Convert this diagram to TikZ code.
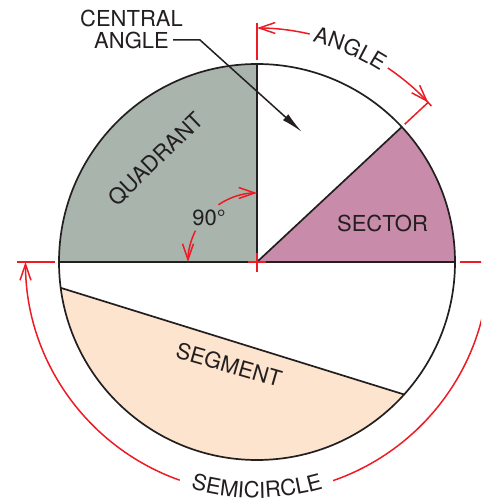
\documentclass[tikz,border=0pt]{standalone}
\usepackage{fontspec}
\setmainfont{TeX Gyre Heros}
\usepackage{tikz}
\usetikzlibrary{arrows.meta,decorations.text}
\definecolor{quadGray}{RGB}{169,181,172}
\definecolor{sectorPink}{RGB}{201,139,170}
\definecolor{segPeach}{RGB}{252,228,206}
\definecolor{dimRed}{RGB}{237,28,36}
\definecolor{inkBlack}{RGB}{35,31,32}

\begin{document}
\begin{tikzpicture}[
  x=1pt, y=1pt,
  figtext/.style={font=\fontsize{22}{22}\selectfont, text=inkBlack, inner sep=0pt, align=center},
  outline/.style={draw=inkBlack, line width=1.7pt},
  dimline/.style={draw=dimRed, line width=1.5pt},
  dimarrow/.style={dimline, -{Straight Barb[length=16pt, width=11pt]}},
  leader/.style={draw=inkBlack, line width=1.5pt, -{Latex[length=22pt, width=8pt]}},
  arctext/.style={decorate, decoration={text along path, text align=center, text color=inkBlack}}
]
  \useasboundingbox (-257,-240) rectangle (224,262);
  \clip (-257,-240) rectangle (224,262);
  \coordinate (O) at (0,0);
  \coordinate (left) at (180:198);
  \coordinate (right) at (0:198);
  \coordinate (top) at (90:198);
  \coordinate (edge) at (43:198);
  \coordinate (chordA) at (187.5:198);
  \coordinate (chordB) at (318:198);

  % filled regions
  \fill[quadGray] (O) -- (top) arc[start angle=90, end angle=180, radius=198] -- cycle;
  \fill[sectorPink] (O) -- (right) arc[start angle=0, end angle=43, radius=198] -- cycle;
  \fill[segPeach] (chordA) arc[start angle=187.5, end angle=318, radius=198] -- cycle;

  % circle and lines
  \draw[outline] (O) circle[radius=198];
  \draw[outline] (left) -- (right);
  \draw[outline] (O) -- (top);
  \draw[outline] (O) -- (edge);
  \draw[outline] (chordA) -- (chordB);

  % labels
  \node[figtext, rotate=44] (quadrant) at (-101,103) {QUADRANT};
  \node[figtext] (sector) at (125.5,39) {SECTOR};
  \node[figtext, rotate=-16] (segment) at (-28,-103) {SEGMENT};
  \node[figtext] (deg) at (-48,44.5) {90°};
  \node[figtext] (central) at (-125.5,233) {CENTRAL\\ANGLE};

  % 90 degree dimension
  \draw[dimarrow] (124:69) arc[start angle=124, end angle=90, radius=69];
  \draw[dimarrow] (153:69) arc[start angle=153, end angle=180, radius=69];

  % centre mark
  \draw[dimline] ([xshift=-9pt]O) -- ([xshift=9pt]O);
  \draw[dimline] ([yshift=-10pt]O) -- ([yshift=9pt]O);

  % central angle leader
  \coordinate (lead) at (-84,222);
  \coordinate (tip) at (45,130);
  \draw[leader] (lead) -- ++(27,0) -- (tip);

  % angle dimension
  \draw[dimline] (90:202) -- (90:239);
  \draw[dimline] (43:202) -- (43:234);
  \draw[dimarrow] (77:234) arc[start angle=77, end angle=90, radius=234];
  \draw[dimarrow] (56:234) arc[start angle=56, end angle=43, radius=234];
  \draw[dimline] (44.2:234) arc[start angle=44.2, end angle=41.8, radius=234];
  \path[arctext, decoration={text={|\fontsize{22}{22}\selectfont|ANGLE}}]
    (78:227) arc[start angle=78, end angle=55, radius=227];

  % semicircle dimension
  \draw[dimline] (180:202) -- (180:240);
  \draw[dimline] (0:203) -- (0:240);
  \draw[dimarrow] (250.5:231.5) arc[start angle=250.5, end angle=180, radius=231.5];
  \draw[dimarrow] (289.2:231.5) arc[start angle=289.2, end angle=360, radius=231.5];
  \path[arctext, decoration={text={|\fontsize{22}{22}\selectfont|SEMICIRCLE}}]
    (250:236) arc[start angle=250, end angle=290, radius=236];
\end{tikzpicture}
\end{document}
